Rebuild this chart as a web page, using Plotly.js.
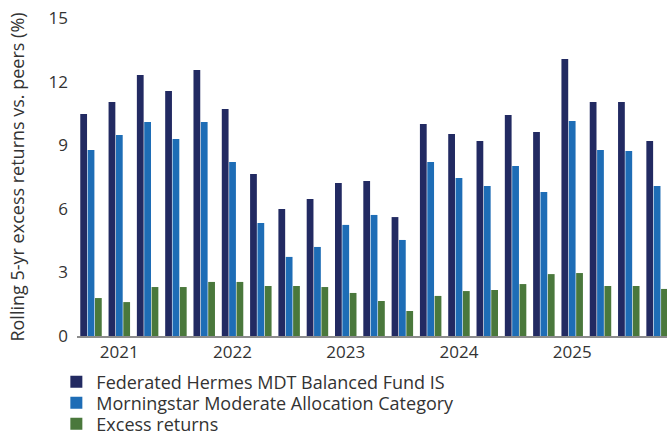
<!DOCTYPE html>
<html>
<head>
<meta charset="utf-8">
<script src="https://cdn.plot.ly/plotly-3.0.1.min.js"></script>
<style>html,body{margin:0;padding:0;background:#fff;}#chart{width:667px;height:435px;}</style>
</head>
<body>
<div id="chart"></div>
<script>
var periods = ["Q1","Q2","Q3","Q4","Q5","Q6","Q7","Q8","Q9","Q10","Q11","Q12","Q13","Q14","Q15","Q16","Q17","Q18","Q19","Q20","Q21"];
var fundValues = [10.47,11.04,12.31,11.56,12.55,10.71,7.64,5.99,6.46,7.22,7.31,5.61,10.0,9.53,9.2,10.42,9.62,13.07,11.04,11.04,9.2];
var categoryValues = [8.77,9.48,10.09,9.29,10.09,8.21,5.33,3.73,4.2,5.24,5.71,4.53,8.21,7.45,7.08,8.02,6.79,10.14,8.77,8.73,7.08];
var excessValues = [1.79,1.6,2.31,2.31,2.55,2.55,2.36,2.36,2.31,2.03,1.65,1.18,1.89,2.12,2.17,2.45,2.92,2.97,2.36,2.36,2.22];
var yearTickPositions = [1,5,9,13,17];
var yearTickLabels = ["2021","2022","2023","2024","2025"];
var seriesNames = ["Federated Hermes MDT Balanced Fund IS","Morningstar Moderate Allocation Category","Excess returns"];

var xIdx = periods.map(function(_, i){ return i; });
var colors = ["#222a62","#1e6db6","#4a783c"];
var legendIds = ["legend","legend2","legend3"];
var data = [fundValues, categoryValues, excessValues].map(function(vals, k){
  return {type:"bar", x:xIdx, y:vals, name:seriesNames[k], marker:{color:colors[k]}, hoverinfo:"y", legend:legendIds[k]};
});

var fontFam = "'Open Sans', Lato, sans-serif";
function legendAt(yv){
  return {orientation:"v", x:-0.035, xanchor:"left", y:yv, yanchor:"middle",
          font:{family:fontFam, size:18, color:"#333333"}, bgcolor:"rgba(0,0,0,0)", borderwidth:0};
}
var layout = {
  width:667, height:435,
  margin:{l:77, r:0, t:18, b:99, autoexpand:false},
  paper_bgcolor:"#fff", plot_bgcolor:"#fff",
  barmode:"group", bargap:0.22, bargroupgap:0.08,
  font:{family:fontFam, color:"#333333", size:16},
  showlegend:true,
  legend:legendAt(-0.1447),
  legend2:legendAt(-0.2107),
  legend3:legendAt(-0.2767),
  xaxis:{range:[-0.495,20.35], tickmode:"array", tickvals:yearTickPositions, ticktext:yearTickLabels,
         showline:true, linecolor:"#8c8c8c", linewidth:2, ticks:"", showgrid:false, zeroline:false,
         tickfont:{size:17, color:"#333333"}, fixedrange:true},
  yaxis:{range:[0,15], tickvals:[0,3,6,9,12,15], ticks:"", showgrid:false, zeroline:false, showline:false,
         tickfont:{size:17, color:"#333333"}, ticklabelstandoff:8,
         title:{text:"Rolling 5-yr excess returns vs. peers (%)", font:{size:18, color:"#333333"}, standoff:19},
         fixedrange:true}
};
Plotly.newPlot("chart", data, layout, {displayModeBar:false, staticPlot:true});
</script>
</body>
</html>
